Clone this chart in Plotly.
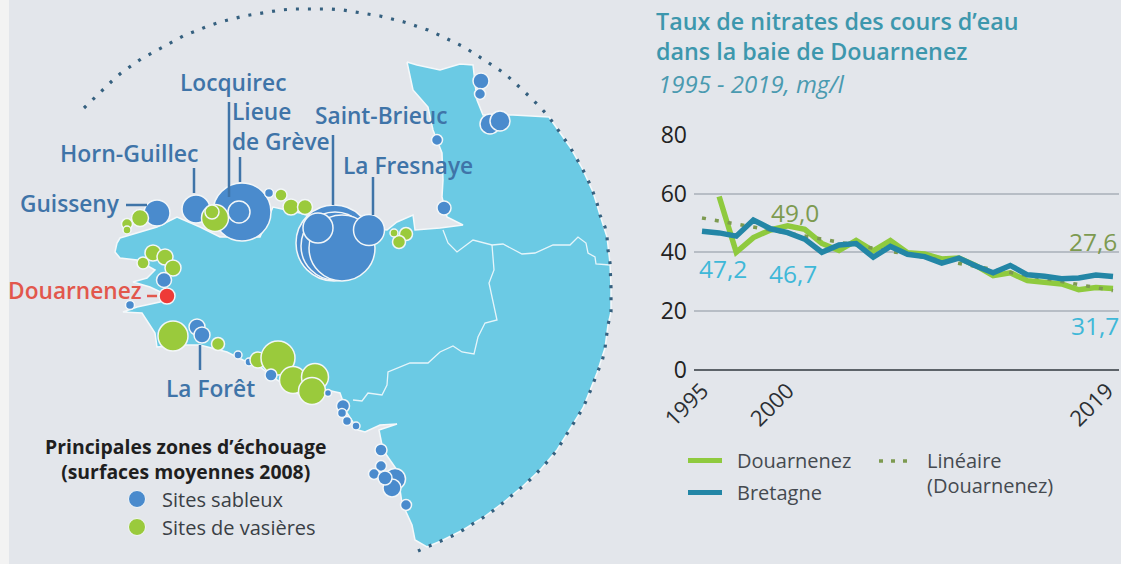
import plotly.graph_objects as go

# ---------- line chart data ----------
years = list(range(1995, 2020))
douarnenez = [None, 59, 40, 45, 47.6, 49.0, 47.8, 43, 40.6, 44, 40.5, 44, 39.8, 39.4, 37.7, 38, 35.4, 32, 33, 30.3, 29.7, 29.2, 27.2, 28, 27.6]
bretagne = [47.2, 46.6, 45.5, 51, 48, 46.7, 44.5, 40, 42.5, 43, 38.3, 42, 39.3, 38.5, 36.3, 38, 35.3, 33, 35.5, 32.3, 31.8, 31, 31.2, 32.2, 31.7]
trend_years = [1995, 2019]
trend_values = [51.7, 26.9]
y_ticks = [0, 20, 40, 60, 80]
x_tick_labels = ["1995", "2000", "2019"]
x_tick_places = [1995, 2000, 2018.65]  # the last label sits just inside the right edge, as in the reference

# ---------- map data, read in picture units ----------
land_x = [407,417,440,460,473,475,477,483,513,549,563,570,582,593,600,607,610,611,611,608,605,597,583,570,557,541,523,504,484,463,441,429,427,415,412,402,397,383,379,397,380,365,358,347,340,327,313,297,277,260,243,227,200,183,157,155,142,123,137,160,167,150,133,147,155,137,120,115,117,120,140,157,177,200,220,260,273,300,340,387,397,413,415,440,463,447,442,443,442,433,428,413,407]
land_y = [62,65,70,64,65,83,100,115,115,117,137,147,168,192,215,237,263,288,312,325,348,373,408,429,450,469,486,502,517,530,541,546,547,540,525,503,470,450,430,424,425,432,430,413,393,390,403,393,380,367,360,352,345,345,347,333,313,312,307,302,295,287,282,278,270,260,258,252,243,238,232,227,217,227,237,237,207,213,225,230,222,215,230,228,225,217,197,180,153,130,107,90,62]
arc_x = [84,94,103,112,121,131,141,152,163,174,185,196,208,220,232,244,256,268,281,293,306,318,331,343,355,367,380,392,404,416,428,439,450,462,472,483,493,504,513,522,531,540,549,556,563,570,582,588,593,597,600,605,607,608,610,611,611,608,605,602,597,592,583,577,570,563,557,549,541,533,523,514,504,494,484,474,463,452,441,429,418]
arc_y = [108,98,89,81,73,66,59,53,47,41,35,31,26,22,19,16,14,12,10,9,9,9,9,10,12,14,16,19,22,26,30,35,40,46,52,59,66,73,81,89,98,107,117,127,137,147,168,180,192,203,215,227,237,250,263,288,312,325,348,362,373,387,408,418,429,440,450,460,469,477,486,494,502,510,517,523,530,536,541,546,551]
border1_x = [443,448,457,473,492,503,522,535,553,570,578,586,588,595,596,610]
border1_y = [230,243,252,240,245,244,254,253,245,245,237,243,253,257,264,265]
border2_x = [492,494,489,493,497,485,478,474,462,453,440,428,410,388,387,382,368,362,353]
border2_y = [245,270,283,300,320,323,337,354,352,346,352,363,363,372,385,395,393,401,400]

site_x = [334,335,342,318,369, 242,239,157,196, 215,212,140,127,127, 269, 281,291,305,153,165,173,143, 164,167,130, 173,197,202,218,238,249,258,278,271,293,315,312,328, 343,342,347,356,381,395,392,381,374,385,406,481,480,490,500,437,444, 406,399,394]
site_y = [243,246,248,228,230, 212,212,213,209, 218,212,218,224,230, 193, 195,207,207,253,257,268,263, 280,296,305, 336,327,335,344,355,362,360,358,375,380,377,391,393, 406,413,421,426,450,479,488,466,474,478,505,81,94,124,121,140,208, 234,242,233]
site_d = [76,68,66,30,31, 58,22,26,28, 27,14,17,11,8, 9, 12,16,15,16,16,16,12, 15,16,9, 30,16,16,13,8,8,16,34,12,27,27,27,7, 13,9,9,8,12,21,18,11,11,14,11,16,11,20,20,11,14, 13,13,8]
site_kind = list("sssss" "ssss" "vvvvv" "s" "vvvvvvv" "srs" "vssvssvvsvvvs" "sssssssssssssssss" "vvv")

BG = "#e3e6eb"
SAND, MUD, RED = "#4a8bcd", "#9aca3c", "#ee3b37"
kind_colour = {"s": SAND, "v": MUD, "r": RED}
LABEL = "#3f74a8"
FONT = "Open Sans"

fig = go.Figure()

# land
fig.add_trace(go.Scatter(x=land_x, y=land_y, mode="lines", fill="toself", fillcolor="#6bcae4",
                         line=dict(color="#f4f8fa", width=1.5), hoverinfo="skip"))
for bx, by in ((border1_x, border1_y), (border2_x, border2_y)):
    fig.add_trace(go.Scatter(x=bx, y=by, mode="lines", line=dict(color="#e6f5fa", width=1.3), hoverinfo="skip"))
fig.add_trace(go.Scatter(x=arc_x, y=arc_y, mode="lines", line=dict(color="#35607f", width=3.2, dash="3px,9px"), hoverinfo="skip"))
fig.add_trace(go.Scatter(x=site_x, y=site_y, mode="markers",
                         marker=dict(size=site_d, color=[kind_colour[k] for k in site_kind],
                                     line=dict(color="#f2f6f8", width=1.5), opacity=1), hoverinfo="skip"))
# map legend markers
legend_kinds = ["s", "v"]
fig.add_trace(go.Scatter(x=[137, 137], y=[499, 527], mode="markers",
                         marker=dict(size=17, color=[kind_colour[k] for k in legend_kinds], line=dict(color="#f2f6f8", width=1)),
                         hoverinfo="skip"))

# line chart
fig.add_trace(go.Scatter(x=years, y=douarnenez, xaxis="x2", yaxis="y2", mode="lines", name="Douarnenez",
                         line=dict(color="#8fca3e", width=5.5)))
fig.add_trace(go.Scatter(x=trend_years, y=trend_values, xaxis="x2", yaxis="y2", mode="lines", name="Linéaire (Douarnenez)",
                         line=dict(color="#7d9a50", width=3.5, dash="4px,9px")))
fig.add_trace(go.Scatter(x=years, y=bretagne, xaxis="x2", yaxis="y2", mode="lines", name="Bretagne",
                         line=dict(color="#2386a6", width=5.5)))

def seg(x0, y0, x1, y1, color, width=2.5, dash="solid"):
    return dict(type="line", xref="x", yref="y", x0=x0, y0=y0, x1=x1, y1=y1, line=dict(color=color, width=width, dash=dash), layer="above")

shapes = [
    dict(type="rect", xref="paper", yref="paper", x0=0, x1=9/1121, y0=0, y1=1, fillcolor="#f3f3f3", line=dict(width=0), layer="below"),
    seg(229,102,229,197,LABEL), seg(240,157,240,182,LABEL), seg(194,168,194,193,LABEL), seg(126,205,147,205,LABEL),
    seg(333,135,333,205,LABEL), seg(373,177,373,215,LABEL), seg(200,345,200,370,LABEL), seg(147,296,157,296,"#e2574c"),
    seg(688,460.5,722,460.5,"#8fca3e",5), seg(688,492.5,722,492.5,"#2386a6",5), seg(879,461,908,461,"#7d9a50",3.5,"4px,8px"),
]

def lab(x, y, t, size, color, weight=600, anchor="left", style="normal"):
    return dict(x=x - 3 if anchor == "left" else x, y=y, xref="x", yref="y", text=t, showarrow=False, xanchor=anchor, yanchor="middle",
                align=anchor, font=dict(family=FONT, size=size, color=color, weight=weight, style=style))

annotations = [
    lab(181,82,"Locquirec",22.7,LABEL), lab(233,126.5,"Lieue<br>de Grève",22.7,LABEL),
    lab(61,153,"Horn-Guillec",23,LABEL), lab(21,203,"Guisseny",22.7,LABEL), lab(316,115,"Saint-Brieuc",22.7,LABEL),
    lab(344,165,"La Fresnaye",22.7,LABEL), lab(9,290,"Douarnenez",22.7,"#e2574c"), lab(167,388,"La Forêt",22.7,LABEL),
    lab(185,458.5,"Principales zones d’échouage<br>(surfaces moyennes 2008)",19.4,"#1f1f1f",700,"center"),
    lab(163,499,"Sites sableux",20,"#3a3f45",400), lab(163,527,"Sites de vasières",20,"#3a3f45",400),
    lab(657,36,"Taux de nitrates des cours d’eau<br>dans la baie de Douarnenez",23.3,"#3d97ad"),
    lab(659,83,"1995 - 2019, mg/l",24,"#4a9ab0",400,"left","italic"),
    lab(723,268,"47,2",24.5,"#3fb8d8",500,"center"), lab(793,273,"46,7",24.5,"#3fb8d8",500,"center"),
    lab(1095,325,"31,7",24.5,"#3fb8d8",500,"center"), lab(795,212,"49,0",24.5,"#7d9a50",500,"center"),
    lab(1093,241,"27,6",24.5,"#7d9a50",500,"center"),
    lab(738,460.5,"Douarnenez",20,"#454a50",400), lab(738,492,"Bretagne",20,"#454a50",400),
    lab(928,460,"Linéaire",20,"#454a50",400), lab(928,485,"(Douarnenez)",20,"#454a50",400),
]

x2_left, x2_right = 1995 - 8 / 17.125, 2019 + 6 / 17.125
fig.update_layout(
    width=1121, height=564, margin=dict(l=0, r=0, t=0, b=0, pad=0, autoexpand=False), showlegend=False,
    paper_bgcolor=BG, plot_bgcolor="rgba(0,0,0,0)", shapes=shapes, annotations=annotations,
    xaxis=dict(domain=[0, 1], range=[0, 1121], visible=False, fixedrange=True, automargin=False),
    yaxis=dict(domain=[0, 1], range=[564, 0], visible=False, fixedrange=True, automargin=False),
    xaxis2=dict(domain=[694/1121, 1119/1121], range=[x2_left, x2_right], anchor="y2", tickmode="array", tickvals=x_tick_places,
                ticktext=x_tick_labels, tickangle=-45, showgrid=False, zeroline=False, showline=False,
                automargin=False, ticks="", ticklabeloverflow="allow", ticklabelstandoff=3,
                tickfont=dict(family=FONT, size=22, color="#2b2f33", weight=500)),
    yaxis2=dict(domain=[1-369.5/564, 1-135/564], range=[0, 80], anchor="x2", tickmode="array", tickvals=y_ticks,
                gridcolor="#b7bdc5", gridwidth=1.5, zeroline=True, zerolinecolor="#5d6369", zerolinewidth=2,
                showline=False, ticks="", ticklabelstandoff=6, automargin=False,
                tickfont=dict(family=FONT, size=23, color="#222", weight=500)),
)

fig.write_html("out.html", post_script="document.body.style.margin='0';document.body.style.background='#e3e6eb';",
               config=dict(displayModeBar=False))
